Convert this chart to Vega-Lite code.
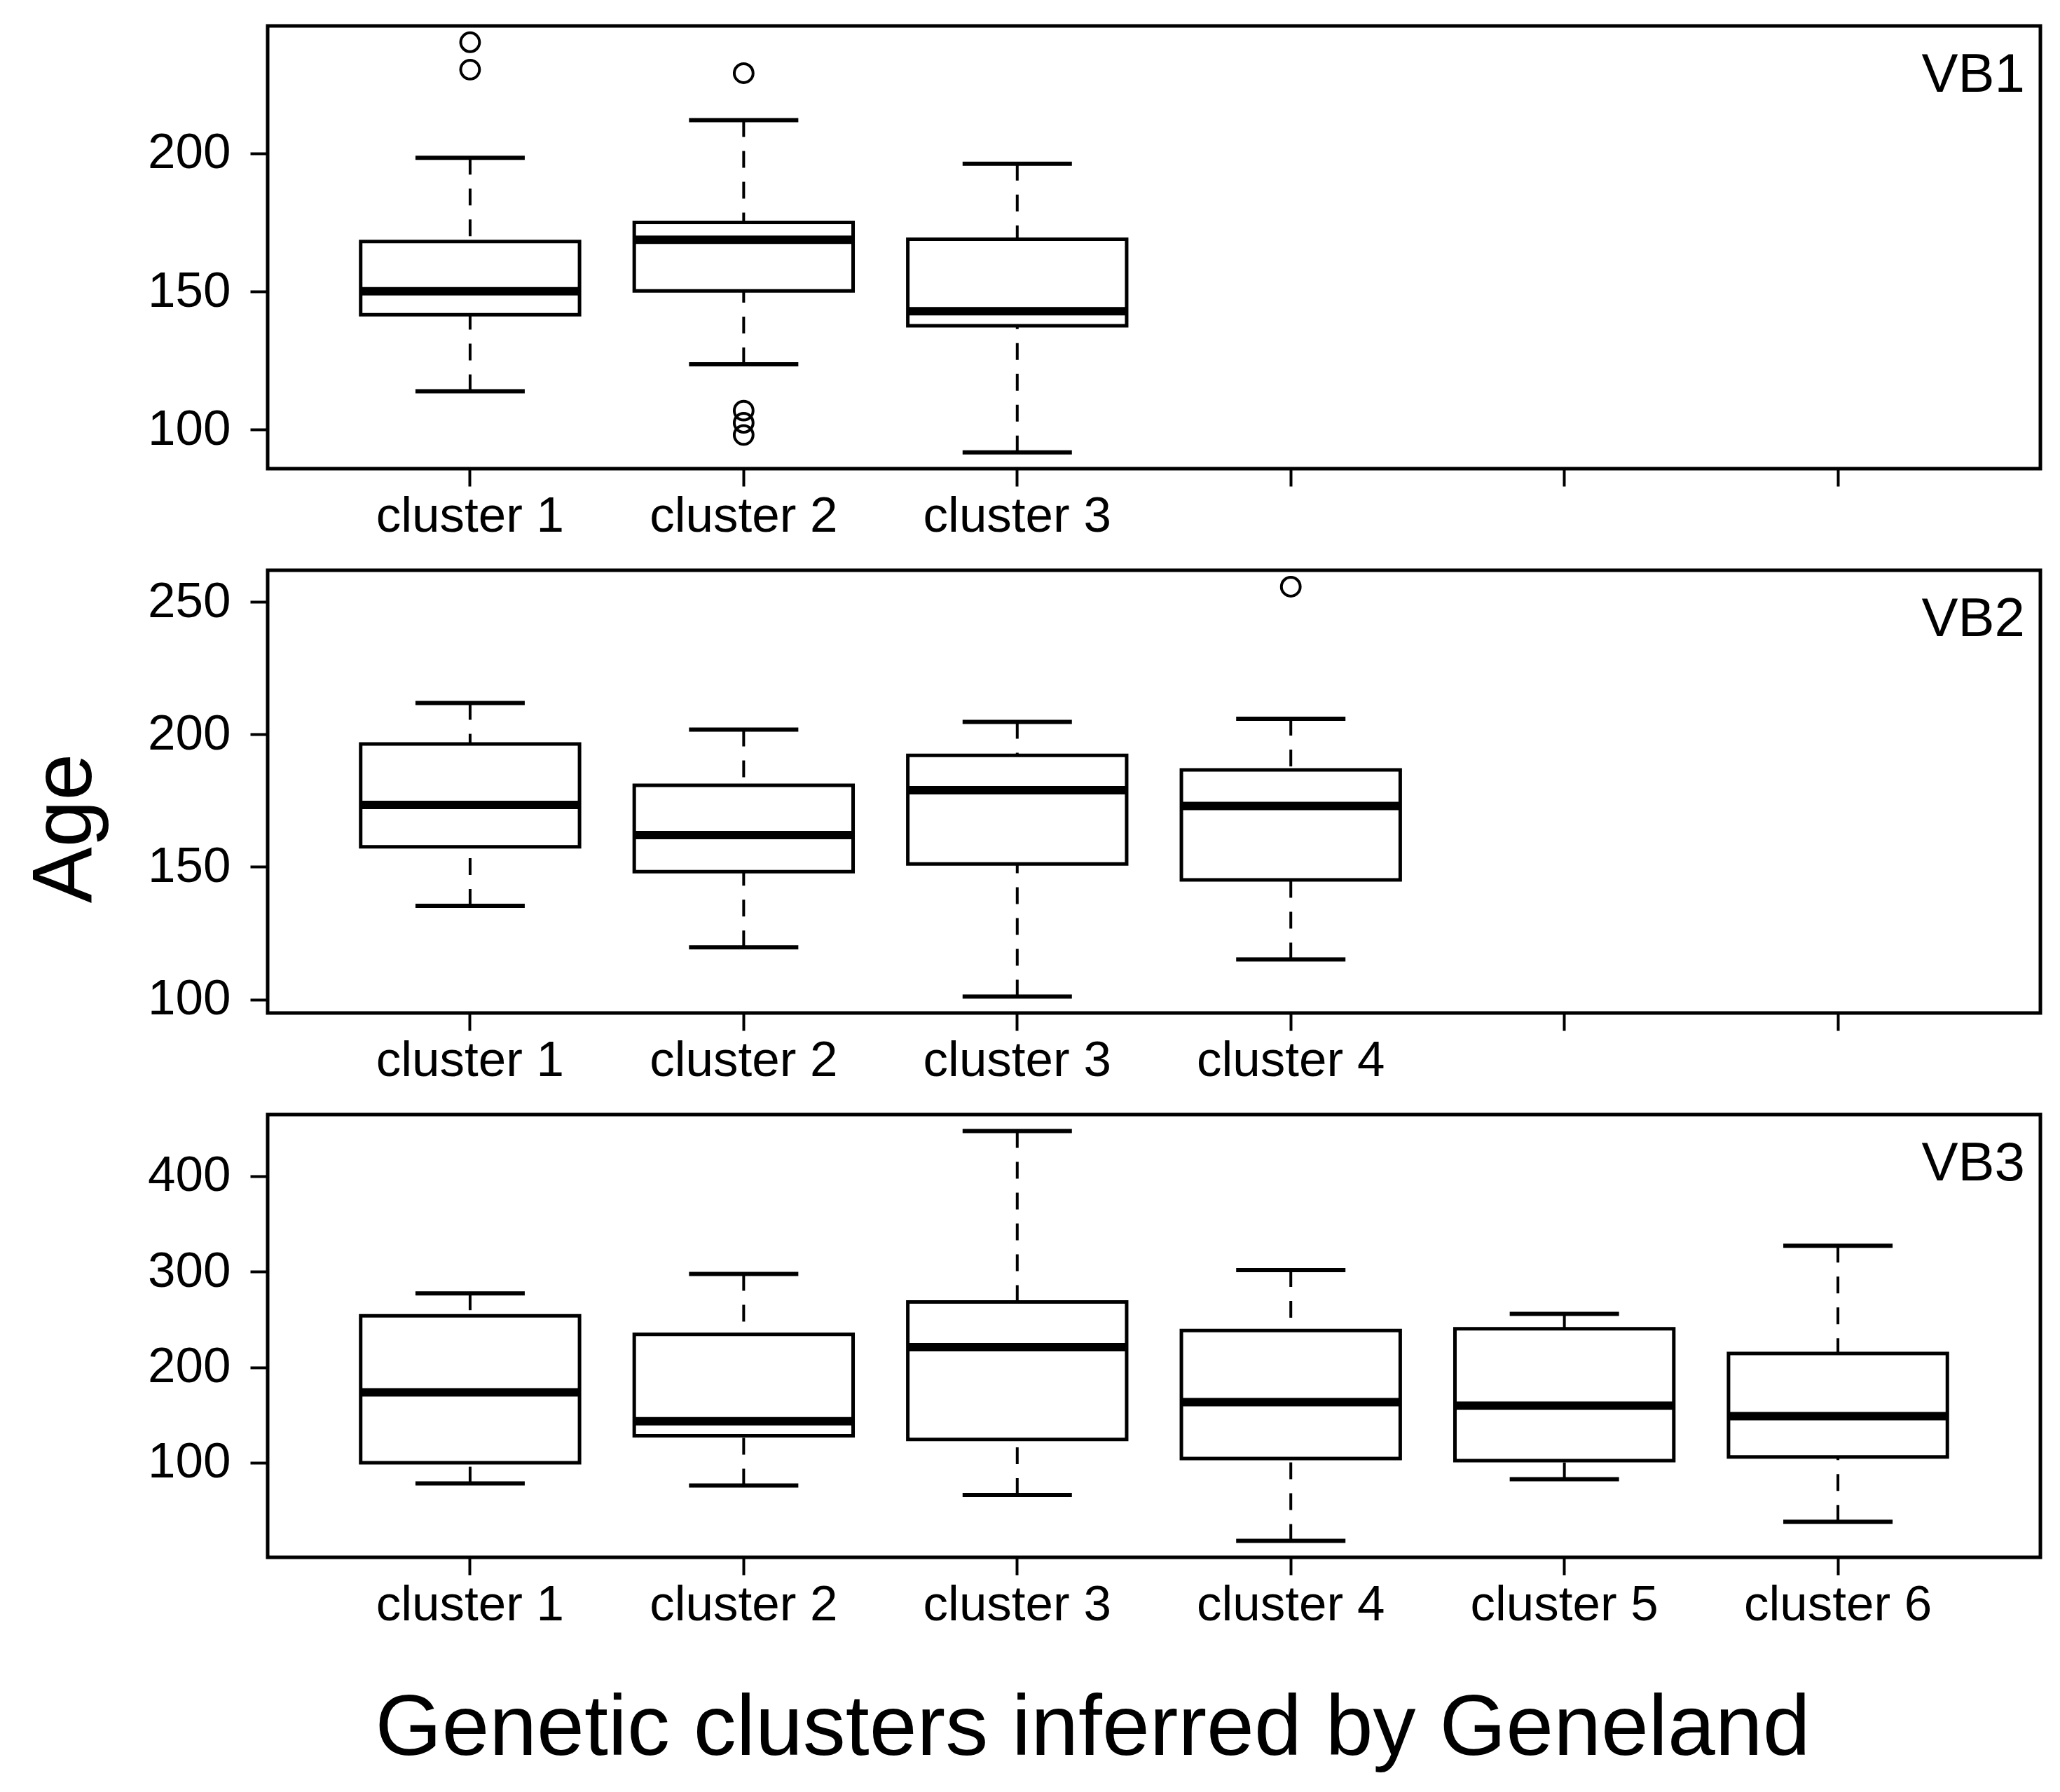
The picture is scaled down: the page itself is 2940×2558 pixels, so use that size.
{
  "$schema": "https://vega.github.io/schema/vega-lite/v6.json",
  "background": "white",
  "padding": {"left": 30, "top": 34, "right": 29, "bottom": 20},
  "spacing": 145,
  "bounds": "flush",
  "config": {
    "font": "Liberation Sans",
    "view": {"stroke": "black", "strokeWidth": 5},
    "axis": {
      "grid": false, "domain": false, "tickColor": "black", "tickWidth": 4, "tickSize": 25,
      "labelColor": "black", "labelFont": "Liberation Sans", "labelFontSize": 71, "labelLimit": 0,
      "titleColor": "black", "titleFont": "Liberation Sans", "titleFontWeight": "normal"
    },
    "title": {"font": "Liberation Sans", "fontWeight": "normal", "color": "black", "fontSize": 78}
  },
  "datasets": {
    "stats": [
      {"panel": "VB1", "cluster": "cluster 1", "lower": 113.9, "q1": 141.6, "median": 150.1, "q3": 168.1, "upper": 198.4},
      {"panel": "VB1", "cluster": "cluster 2", "lower": 123.7, "q1": 150.2, "median": 168.7, "q3": 175.0, "upper": 212.0},
      {"panel": "VB1", "cluster": "cluster 3", "lower": 91.8, "q1": 137.6, "median": 142.9, "q3": 168.9, "upper": 196.2},
      {"panel": "VB2", "cluster": "cluster 1", "lower": 135.3, "q1": 157.6, "median": 173.4, "q3": 196.4, "upper": 211.8},
      {"panel": "VB2", "cluster": "cluster 2", "lower": 119.7, "q1": 148.2, "median": 162.0, "q3": 180.8, "upper": 201.8},
      {"panel": "VB2", "cluster": "cluster 3", "lower": 101.1, "q1": 151.1, "median": 178.9, "q3": 192.1, "upper": 204.7},
      {"panel": "VB2", "cluster": "cluster 4", "lower": 115.1, "q1": 145.1, "median": 173.0, "q3": 186.6, "upper": 205.9},
      {"panel": "VB3", "cluster": "cluster 1", "lower": 78.2, "q1": 100.0, "median": 173.6, "q3": 253.7, "upper": 277.3},
      {"panel": "VB3", "cluster": "cluster 2", "lower": 76.0, "q1": 128.1, "median": 143.4, "q3": 234.4, "upper": 297.7},
      {"panel": "VB3", "cluster": "cluster 3", "lower": 66.2, "q1": 124.4, "median": 220.9, "q3": 268.2, "upper": 447.3},
      {"panel": "VB3", "cluster": "cluster 4", "lower": 18.1, "q1": 104.4, "median": 163.4, "q3": 238.4, "upper": 301.7},
      {"panel": "VB3", "cluster": "cluster 5", "lower": 82.6, "q1": 102.2, "median": 159.7, "q3": 240.2, "upper": 255.8},
      {"panel": "VB3", "cluster": "cluster 6", "lower": 38.1, "q1": 105.9, "median": 148.8, "q3": 214.3, "upper": 327.2}
    ],
    "outliers": [
      {"panel": "VB1", "cluster": "cluster 1", "age": 240.2},
      {"panel": "VB1", "cluster": "cluster 1", "age": 230.3},
      {"panel": "VB1", "cluster": "cluster 2", "age": 229.0},
      {"panel": "VB1", "cluster": "cluster 2", "age": 106.9},
      {"panel": "VB1", "cluster": "cluster 2", "age": 102.5},
      {"panel": "VB1", "cluster": "cluster 2", "age": 98.1},
      {"panel": "VB2", "cluster": "cluster 4", "age": 255.7}
    ]
  },
  "vconcat": [
    {
      "width": 2530, "height": 632,
      "title": {"text": "VB1", "orient": "top", "anchor": "end", "frame": "group", "offset": -172, "dx": -22, "baseline": "alphabetic"},
      "encoding": {
        "x": {"field": "cluster", "type": "nominal",
          "scale": {"type": "band", "domain": ["cluster 1", "cluster 2", "cluster 3", "cluster 4", "cluster 5", "cluster 6"], "paddingInner": 0.2, "paddingOuter": 0.34},
          "axis": {"title": null, "labelAngle": 0, "labelPadding": 8, "labelExpr": "datum.value <= 'cluster 3' ? datum.value : ''"}}
      },
      "layer": [
        {"data": {"name": "stats"}, "transform": [{"filter": "datum.panel == 'VB1'"}],
          "mark": {"type": "rule", "strokeDash": [24, 20], "strokeWidth": 4, "color": "black"},
          "encoding": {"y": {"field": "upper", "type": "quantitative", "scale": {"domain": [85.9, 246.1], "nice": false, "zero": false},
            "axis": {"title": null, "values": [100, 150, 200], "labelPadding": 28}}, "y2": {"field": "q3"}}},
        {"data": {"name": "stats"}, "transform": [{"filter": "datum.panel == 'VB1'"}],
          "mark": {"type": "rule", "strokeDash": [24, 20], "strokeWidth": 4, "color": "black"},
          "encoding": {"y": {"field": "lower", "type": "quantitative"}, "y2": {"field": "q1"}}},
        {"data": {"name": "stats"}, "transform": [{"filter": "datum.panel == 'VB1'"}],
          "mark": {"type": "bar", "fill": "white", "stroke": "black", "strokeWidth": 5},
          "encoding": {"y": {"field": "q1", "type": "quantitative"}, "y2": {"field": "q3"}}},
        {"data": {"name": "stats"}, "transform": [{"filter": "datum.panel == 'VB1'"}],
          "mark": {"type": "tick", "size": 312, "thickness": 12, "color": "black", "opacity": 1},
          "encoding": {"y": {"field": "median", "type": "quantitative"}}},
        {"data": {"name": "stats"}, "transform": [{"filter": "datum.panel == 'VB1'"}],
          "mark": {"type": "tick", "size": 156, "thickness": 6, "color": "black", "opacity": 1},
          "encoding": {"y": {"field": "upper", "type": "quantitative"}}},
        {"data": {"name": "stats"}, "transform": [{"filter": "datum.panel == 'VB1'"}],
          "mark": {"type": "tick", "size": 156, "thickness": 6, "color": "black", "opacity": 1},
          "encoding": {"y": {"field": "lower", "type": "quantitative"}}},
        {"data": {"name": "outliers"}, "transform": [{"filter": "datum.panel == 'VB1'"}],
          "mark": {"type": "point", "shape": "circle", "filled": false, "size": 720, "strokeWidth": 4, "color": "black", "opacity": 1},
          "encoding": {"y": {"field": "age", "type": "quantitative"}}}
      ]
    },
    {
      "width": 2530, "height": 632,
      "title": {"text": "VB2", "orient": "top", "anchor": "end", "frame": "group", "offset": -172, "dx": -22, "baseline": "alphabetic"},
      "encoding": {
        "x": {"field": "cluster", "type": "nominal",
          "scale": {"type": "band", "domain": ["cluster 1", "cluster 2", "cluster 3", "cluster 4", "cluster 5", "cluster 6"], "paddingInner": 0.2, "paddingOuter": 0.34},
          "axis": {"title": null, "labelAngle": 0, "labelPadding": 8, "labelExpr": "datum.value <= 'cluster 4' ? datum.value : ''"}}
      },
      "layer": [
        {"data": {"name": "stats"}, "transform": [{"filter": "datum.panel == 'VB2'"}],
          "mark": {"type": "rule", "strokeDash": [24, 20], "strokeWidth": 4, "color": "black"},
          "encoding": {"y": {"field": "upper", "type": "quantitative", "scale": {"domain": [94.9, 261.9], "nice": false, "zero": false},
            "axis": {"title": "Age", "values": [100, 150, 200, 250], "labelPadding": 28, "titleFontSize": 120, "titleAngle": -90, "titleX": -253, "titleY": 368, "titleAlign": "center", "titleBaseline": "alphabetic"}}, "y2": {"field": "q3"}}},
        {"data": {"name": "stats"}, "transform": [{"filter": "datum.panel == 'VB2'"}],
          "mark": {"type": "rule", "strokeDash": [24, 20], "strokeWidth": 4, "color": "black"},
          "encoding": {"y": {"field": "lower", "type": "quantitative"}, "y2": {"field": "q1"}}},
        {"data": {"name": "stats"}, "transform": [{"filter": "datum.panel == 'VB2'"}],
          "mark": {"type": "bar", "fill": "white", "stroke": "black", "strokeWidth": 5},
          "encoding": {"y": {"field": "q1", "type": "quantitative"}, "y2": {"field": "q3"}}},
        {"data": {"name": "stats"}, "transform": [{"filter": "datum.panel == 'VB2'"}],
          "mark": {"type": "tick", "size": 312, "thickness": 12, "color": "black", "opacity": 1},
          "encoding": {"y": {"field": "median", "type": "quantitative"}}},
        {"data": {"name": "stats"}, "transform": [{"filter": "datum.panel == 'VB2'"}],
          "mark": {"type": "tick", "size": 156, "thickness": 6, "color": "black", "opacity": 1},
          "encoding": {"y": {"field": "upper", "type": "quantitative"}}},
        {"data": {"name": "stats"}, "transform": [{"filter": "datum.panel == 'VB2'"}],
          "mark": {"type": "tick", "size": 156, "thickness": 6, "color": "black", "opacity": 1},
          "encoding": {"y": {"field": "lower", "type": "quantitative"}}},
        {"data": {"name": "outliers"}, "transform": [{"filter": "datum.panel == 'VB2'"}],
          "mark": {"type": "point", "shape": "circle", "filled": false, "size": 720, "strokeWidth": 4, "color": "black", "opacity": 1},
          "encoding": {"y": {"field": "age", "type": "quantitative"}}}
      ]
    },
    {
      "width": 2530, "height": 632,
      "title": {"text": "VB3", "orient": "top", "anchor": "end", "frame": "group", "offset": -172, "dx": -22, "baseline": "alphabetic"},
      "encoding": {
        "x": {"field": "cluster", "type": "nominal",
          "scale": {"type": "band", "domain": ["cluster 1", "cluster 2", "cluster 3", "cluster 4", "cluster 5", "cluster 6"], "paddingInner": 0.2, "paddingOuter": 0.34},
          "axis": {"title": "Genetic clusters inferred by Geneland", "labelAngle": 0, "labelPadding": 8, "titleFontSize": 122, "titleX": 1177, "titleY": 281, "titleAlign": "center", "titleBaseline": "alphabetic"}}
      },
      "layer": [
        {"data": {"name": "stats"}, "transform": [{"filter": "datum.panel == 'VB3'"}],
          "mark": {"type": "rule", "strokeDash": [24, 20], "strokeWidth": 4, "color": "black"},
          "encoding": {"y": {"field": "upper", "type": "quantitative", "scale": {"domain": [0.9, 464.5], "nice": false, "zero": false},
            "axis": {"title": null, "values": [100, 200, 300, 400], "labelPadding": 28}}, "y2": {"field": "q3"}}},
        {"data": {"name": "stats"}, "transform": [{"filter": "datum.panel == 'VB3'"}],
          "mark": {"type": "rule", "strokeDash": [24, 20], "strokeWidth": 4, "color": "black"},
          "encoding": {"y": {"field": "lower", "type": "quantitative"}, "y2": {"field": "q1"}}},
        {"data": {"name": "stats"}, "transform": [{"filter": "datum.panel == 'VB3'"}],
          "mark": {"type": "bar", "fill": "white", "stroke": "black", "strokeWidth": 5},
          "encoding": {"y": {"field": "q1", "type": "quantitative"}, "y2": {"field": "q3"}}},
        {"data": {"name": "stats"}, "transform": [{"filter": "datum.panel == 'VB3'"}],
          "mark": {"type": "tick", "size": 312, "thickness": 12, "color": "black", "opacity": 1},
          "encoding": {"y": {"field": "median", "type": "quantitative"}}},
        {"data": {"name": "stats"}, "transform": [{"filter": "datum.panel == 'VB3'"}],
          "mark": {"type": "tick", "size": 156, "thickness": 6, "color": "black", "opacity": 1},
          "encoding": {"y": {"field": "upper", "type": "quantitative"}}},
        {"data": {"name": "stats"}, "transform": [{"filter": "datum.panel == 'VB3'"}],
          "mark": {"type": "tick", "size": 156, "thickness": 6, "color": "black", "opacity": 1},
          "encoding": {"y": {"field": "lower", "type": "quantitative"}}}
      ]
    }
  ]
}
